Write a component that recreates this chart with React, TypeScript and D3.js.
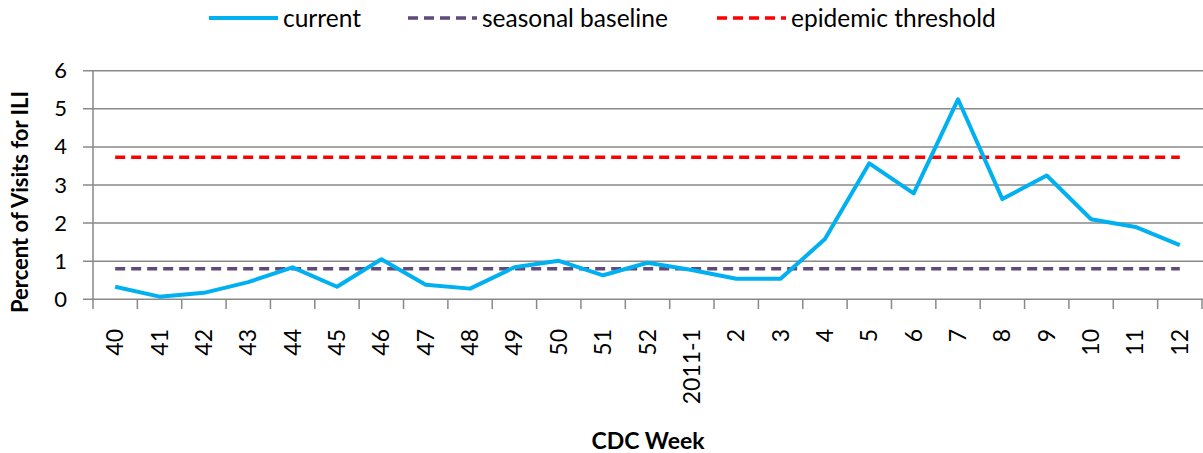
import React, { useEffect } from "react";
import { scaleBand, scaleLinear, line } from "d3";

const weeks = ["40", "41", "42", "43", "44", "45", "46", "47", "48", "49", "50", "51", "52", "2011-1", "2", "3", "4", "5", "6", "7", "8", "9", "10", "11", "12"];
const current = [0.33, 0.07, 0.17, 0.45, 0.84, 0.33, 1.05, 0.38, 0.28, 0.84, 1.01, 0.63, 0.96, 0.77, 0.54, 0.54, 1.58, 3.57, 2.78, 5.25, 2.63, 3.25, 2.1, 1.9, 1.42];
const seasonalBaseline = 0.8;
const epidemicThreshold = 3.73;
const yTicks = [0, 1, 2, 3, 4, 5, 6];

const W = 1203;
const H = 453;
const FONT = "Lato, 'Open Sans', sans-serif";
const GRID = "#898989";
const BLUE = "#00B0F0";
const PURPLE = "#604A7B";
const RED = "#FF0000";

const App: React.FC = () => {
    useEffect(() => {
        document.body.style.margin = "0";
    }, []);

    const x = scaleBand<string>().domain(weeks).range([93, 1202]).padding(0);
    const y = scaleLinear().domain([0, 6]).range([299.3, 70.7]);
    const cx = (w: string) => (x(w) as number) + x.bandwidth() / 2;

    const currentLine = line<number>()
        .x((_, i) => cx(weeks[i]))
        .y(d => y(d));

    const flat = (v: number) =>
        line<string>()
            .x(w => cx(w))
            .y(() => y(v))(weeks) as string;

    const legend = [
        { label: "current", color: BLUE, dash: null, x0: 209 },
        { label: "seasonal baseline", color: PURPLE, dash: "10,6", x0: 408 },
        { label: "epidemic threshold", color: RED, dash: "10,6", x0: 717 },
    ];

    return (
        <svg width={W} height={H} style={{ display: "block", background: "#fff" }} fontFamily={FONT}>
            {/* legend */}
            {legend.map(l => (
                <g key={l.label}>
                    <line
                        x1={l.x0}
                        x2={l.x0 + 69}
                        y1={18}
                        y2={18}
                        stroke={l.color}
                        strokeWidth={l.dash ? 3.5 : 4}
                        strokeDasharray={l.dash || undefined}
                    />
                    <text x={l.x0 + 74} y={27} fontSize={24.5} fill="#000">
                        {l.label}
                    </text>
                </g>
            ))}

            {/* grid */}
            {yTicks.map(t => (
                <g key={t}>
                    <line x1={83} x2={1203} y1={y(t)} y2={y(t)} stroke={GRID} strokeWidth={1.5} />
                    <text x={67} y={y(t) + 7.5} fontSize={22} textAnchor="end" fill="#000">
                        {t}
                    </text>
                </g>
            ))}
            <line x1={93} x2={93} y1={y(6)} y2={309} stroke={GRID} strokeWidth={1.5} />
            {weeks.map(w => (
                <line
                    key={"t" + w}
                    x1={(x(w) as number) + x.bandwidth()}
                    x2={(x(w) as number) + x.bandwidth()}
                    y1={y(0)}
                    y2={309}
                    stroke={GRID}
                    strokeWidth={1.5}
                />
            ))}

            {/* x labels */}
            {weeks.map(w => (
                <text
                    key={"l" + w}
                    transform={`translate(${cx(w) + 8},329) rotate(-90)`}
                    fontSize={23}
                    textAnchor="end"
                    fill="#000"
                >
                    {w}
                </text>
            ))}

            {/* series */}
            <path d={flat(seasonalBaseline)} fill="none" stroke={PURPLE} strokeWidth={3.5} strokeDasharray="10,6" />
            <path d={flat(epidemicThreshold)} fill="none" stroke={RED} strokeWidth={3.5} strokeDasharray="10,6" />
            <path d={currentLine(current) as string} fill="none" stroke={BLUE} strokeWidth={4} strokeLinejoin="round" />

            {/* axis titles */}
            <text
                transform="translate(28,202) rotate(-90)"
                fontSize={22}
                fontWeight="bold"
                textAnchor="middle"
                fill="#000"
            >
                Percent of Visits for ILI
            </text>
            <text x={648} y={449} fontSize={23} fontWeight="bold" textAnchor="middle" fill="#000">
                CDC Week
            </text>
        </svg>
    );
};

export default App;
